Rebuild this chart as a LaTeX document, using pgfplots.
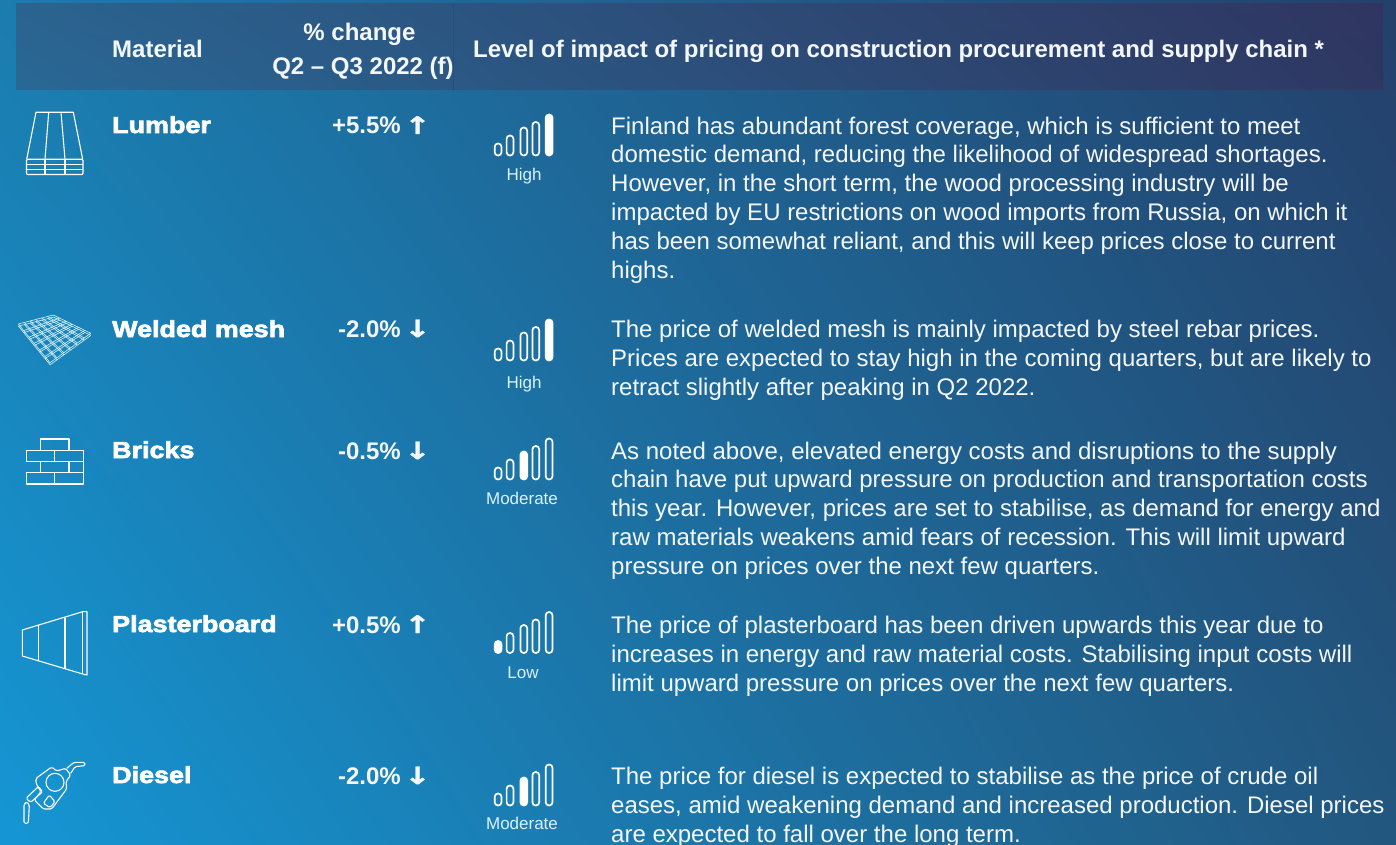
\documentclass[border=0pt]{standalone}
\usepackage{fontspec}
\usepackage{pgfplots}
\pgfplotsset{compat=1.18}
\usetikzlibrary{shadings}
\setmainfont{Liberation Sans}
\newfontfamily\blackfont[FakeBold=3,FakeStretch=1.17]{Liberation Sans Bold}
\newfontfamily\arrowfont[FakeBold=1.5,FakeStretch=1.3]{DejaVu Sans Bold}
\definecolor{bgTL}{HTML}{1B7CAE}
\definecolor{bgTR}{HTML}{24406B}
\definecolor{bgBL}{HTML}{1596D4}
\definecolor{bgBR}{HTML}{22577F}
\definecolor{headTL}{HTML}{2B638F}
\definecolor{headTR}{HTML}{2F3560}
\definecolor{divider}{HTML}{2A4C78}
\definecolor{txt}{HTML}{F4F7FA}

% one signal bar: left x, height, base y, filled?
\newcommand\capsule[4]{%
  \pgfmathsetmacro\xr{#1+6.8}%
  \pgfmathsetmacro\yt{#3-#2}%
  \ifnum#4=1
    \addplot[white,line width=1.7pt,fill=white,rounded corners=3.3pt] coordinates {(#1,#3)(\xr,#3)(\xr,\yt)(#1,\yt)} --cycle;
  \else
    \addplot[white,line width=1.7pt,rounded corners=3.3pt] coordinates {(#1,#3)(\xr,#3)(\xr,\yt)(#1,\yt)} --cycle;
  \fi
}
% base y, index of the filled bar
\newcommand\signal[2]{%
  \capsule{494.7}{12}{#1}{\ifnum#2=1 1\else 0\fi}
  \capsule{506.6}{20}{#1}{\ifnum#2=2 1\else 0\fi}
  \capsule{520.4}{28}{#1}{\ifnum#2=3 1\else 0\fi}
  \capsule{532.4}{33.5}{#1}{\ifnum#2=4 1\else 0\fi}
  \capsule{545.7}{41}{#1}{\ifnum#2=5 1\else 0\fi}
}
\newcommand\body[3]{\node[anchor=base west,text=txt,inner sep=0pt,font=\fontsize{24}{28}\selectfont] at (axis cs:#1,#2) {#3};}
\newcommand\material[2]{\node[anchor=base west,text=white,inner sep=0pt,font=\fontsize{23}{28}\blackfont] at (axis cs:112,#1) {#2};}
\newcommand\change[3]{%
  \node[anchor=base east,text=txt,inner sep=0pt,font=\fontsize{24}{28}\selectfont\bfseries] at (axis cs:401,#1) {#2};
  \node[anchor=base,text=txt,inner sep=0pt,font=\fontsize{24}{28}\arrowfont] at (axis cs:417.5,#1) {#3};}
\newcommand\level[3]{\node[anchor=base,text=white!85!cyan,inner sep=0pt,font=\fontsize{17}{20}\selectfont] at (axis cs:#1,#2) {#3};}

\begin{document}
\begin{tikzpicture}[px/.style={x=1pt,y=-1pt,yshift=845pt},zoomed/.style={x=0.33333pt,y=-0.33333pt,yshift=#1}]
\path[use as bounding box,clip] (0,0) rectangle (1396pt,845pt);
\shade[upper left=bgTL,upper right=bgTR,lower left=bgBL,lower right=bgBR] (0,0) rectangle (1396pt,845pt);
\begin{scope}[px]
  \shade[upper left=headTL,upper right=headTR,lower left=headTL!90!bgBL,lower right=headTR!92!bgBR] (16,4) rectangle (1383,90);
  \draw[divider,line width=0.7pt] (453.5,4) -- (453.5,90);
\end{scope}

\begin{axis}[
    at={(0,0)}, anchor=south west,
    scale only axis, width=1396pt, height=845pt,
    xmin=0, xmax=1396, ymin=0, ymax=845,
    y dir=reverse, hide axis, clip=false,
]
% header
\node[anchor=base west,text=txt,inner sep=0pt,font=\fontsize{24}{28}\selectfont\bfseries] at (axis cs:112,58) {Material};
\node[anchor=base,text=txt,inner sep=0pt,font=\fontsize{24}{28}\selectfont\bfseries] at (axis cs:359.5,41) {\% change};
\node[anchor=base,text=txt,inner sep=0pt,font=\fontsize{24}{28}\selectfont\bfseries] at (axis cs:363,75) {Q2 – Q3 2022 (f)};
\node[anchor=base west,text=txt,inner sep=0pt,font=\fontsize{24}{28}\selectfont\bfseries] at (axis cs:473,58) {Level of impact of pricing on construction procurement and supply chain *};

% Lumber
\material{133}{Lumber}
\change{134}{+5.5\%}{↑}
\signal{155.5}{5}
\level{524}{180}{High}
\body{611}{134.5}{Finland has abundant forest coverage, which is sufficient to meet}
\body{611}{163}{domestic demand, reducing the likelihood of widespread shortages.}
\body{611}{191.5}{However, in the short term, the wood processing industry will be}
\body{611}{220.5}{impacted by EU restrictions on wood imports from Russia, on which it}
\body{611}{249.5}{has been somewhat reliant, and this will keep prices close to current}
\body{611}{278.5}{highs.}

% Welded mesh
\material{337}{Welded mesh}
\change{337}{-2.0\%}{↓}
\signal{360.5}{5}
\level{524}{388}{High}
\body{611}{337}{The price of welded mesh is mainly impacted by steel rebar prices.}
\body{611}{366}{Prices are expected to stay high in the coming quarters, but are likely to}
\body{611}{395}{retract slightly after peaking in Q2 2022.}

% Bricks
\material{458}{Bricks}
\change{459}{-0.5\%}{↓}
\signal{479.5}{3}
\level{522}{504}{Moderate}
\body{611}{459}{As noted above, elevated energy costs and disruptions to the supply}
\body{611}{487}{chain have put upward pressure on production and transportation costs}
\body{611}{516}{this year. However, prices are set to stabilise, as demand for energy and}
\body{611}{545}{raw materials weakens amid fears of recession. This will limit upward}
\body{611}{574}{pressure on prices over the next few quarters.}

% Plasterboard
\material{632}{Plasterboard}
\change{633}{+0.5\%}{↑}
\signal{653}{1}
\level{523}{678}{Low}
\body{611}{633}{The price of plasterboard has been driven upwards this year due to}
\body{611}{662}{increases in energy and raw material costs. Stabilising input costs will}
\body{611}{691}{limit upward pressure on prices over the next few quarters.}

% Diesel
\material{783}{Diesel}
\change{784}{-2.0\%}{↓}
\signal{805.5}{3}
\level{522}{829}{Moderate}
\body{611}{784}{The price for diesel is expected to stabilise as the price of crude oil}
\body{611}{813}{eases, amid weakening demand and increased production. Diesel prices}
\body{611}{842}{are expected to fall over the long term.}
\end{axis}

% icons
\begin{scope}[px,white,line width=1.1pt,line join=round]
  % lumber
  \draw (26.7,159.3) -- (36,112.3) -- (73.3,112.3) -- (82.7,159.3);
  \draw (48.7,112.3) -- (45,159.3) (61,112.3) -- (65,159.3);
  \draw[rounded corners=1pt] (26.5,159.3) rectangle (83,174.5);
  \draw (26.5,164.5) -- (83,164.5) (26.5,169.5) -- (83,169.5) (45,159.3) -- (45,174.5) (65,159.3) -- (65,174.5);
  % mesh
  \begin{scope}[line width=0.6pt,white!85!cyan]
  \foreach \t in {0,0.17,0.34,0.5,0.67,0.84,1} {
    \draw ({18.3+\t*(53.3-18.3)},{324+\t*(315-324)}) -- ({50+\t*(90.7-50)},{362.7+\t*(333.3-362.7)});
    \draw ({18.3+\t*(53.3-18.3)},{326+\t*(315-324)}) -- ({50+\t*(90.7-50)},{364.7+\t*(333.3-362.7)});
    \draw ({18.3+\t*(50-18.3)},{324+\t*(362.7-324)}) -- ({53.3+\t*(90.7-53.3)},{315+\t*(333.3-315)});
    \draw ({18.3+\t*(50-18.3)},{326.2+\t*(362.7-324)}) -- ({53.3+\t*(90.7-53.3)},{317.2+\t*(333.3-315)});
  }
  \end{scope}
  % bricks
  \draw (40.7,450.7) -- (40.7,439) -- (69,439) -- (69,450.7);
  \draw (26.3,450.7) rectangle (83.3,461.7) (54.7,450.7) -- (54.7,461.7);
  \draw (40.7,461.7) -- (40.7,472.7) (69,461.7) -- (69,472.7) (83.3,461.7) -- (83.3,472.7);
  \draw (26.3,472.7) rectangle (83.3,484) (54.7,472.7) -- (54.7,484);
  % plasterboard
  \draw (22.3,630) -- (82.7,611.7) -- (87,611.7) -- (87,675) -- (82.7,674) -- (22.3,656) -- cycle;
  \draw (82.7,611.7) -- (82.7,674) (38.7,625) -- (38.7,661.3) (65,618) -- (65,668.7);
\end{scope}
% diesel nozzle, in coordinates of a 3x crop
\begin{scope}[zoomed=100pt,white,line width=1.1pt,line join=round,rounded corners=1.5pt]
  \draw (108,100) -- (155,66) -- (170,78) -- (197,70) -- (212,90) -- (198,110) -- (200,132) -- (155,192) -- (130,192) -- (103,165) -- (123,140) -- (108,115) -- cycle;
  \draw (165,112) circle (27);
  \draw (78,160) -- (115,125) -- (128,140) -- (92,172) -- cycle;
  \draw (72,178) -- (80,170) -- (88,180) -- (85,235) -- (72,235) -- cycle;
  \draw (130,175) -- (148,150) -- (165,170) -- (150,188) -- cycle;
  \draw (200,70) -- (222,52) -- (255,52) -- (255,62) -- (225,65) -- (212,85);
\end{scope}
\end{tikzpicture}
\end{document}
